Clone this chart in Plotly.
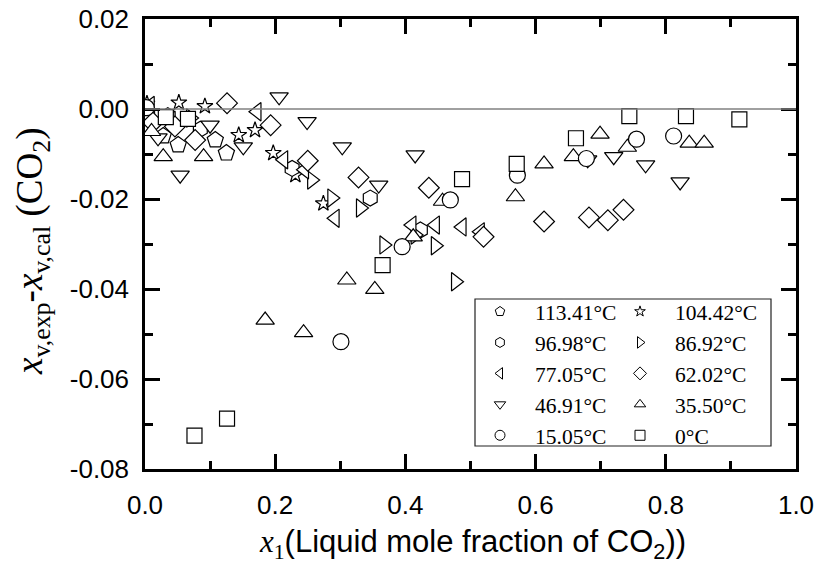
import plotly.graph_objects as go

# ---- data (x1 = liquid mole fraction of CO2, dy = x_v,exp - x_v,cal) ----
labels = ["113.41°C", "104.42°C", "96.98°C", "86.92°C", "77.05°C",
          "62.02°C", "46.91°C", "35.50°C", "15.05°C", "0°C"]

x_113 = [0.004, 0.028, 0.051, 0.108, 0.125]
y_113 = [-0.0035, -0.006, -0.008, -0.0069, -0.0098]

x_104 = [0.003, 0.052, 0.092, 0.144, 0.169, 0.197, 0.231, 0.274]
y_104 = [0.0012, 0.0014, 0.0006, -0.0058, -0.0047, -0.0098, -0.0147, -0.021]

x_97 = [0.004, 0.035, 0.085, 0.226, 0.346, 0.423]
y_97 = [-0.001, -0.0015, -0.0045, -0.0132, -0.0198, -0.0269]

x_87 = [0.012, 0.07, 0.256, 0.287, 0.331, 0.367, 0.415, 0.446, 0.477]
y_87 = [-0.003, -0.002, -0.0158, -0.0198, -0.022, -0.0302, -0.028, -0.0304, -0.0384]

x_77 = [0.008, 0.04, 0.172, 0.213, 0.245, 0.292, 0.41, 0.446, 0.487, 0.515]
y_77 = [0.0008, -0.0025, -0.0006, -0.0113, -0.0135, -0.0243, -0.0258, -0.0258, -0.0262, -0.0273]

x_62 = [0.012, 0.046, 0.077, 0.126, 0.193, 0.25, 0.328, 0.436, 0.52, 0.613, 0.682, 0.711, 0.735]
y_62 = [-0.003, -0.0039, -0.0069, 0.0013, -0.0036, -0.0115, -0.0152, -0.0175, -0.0284, -0.025,
        -0.0241, -0.0247, -0.0224]

x_47 = [0.02, 0.054, 0.1, 0.151, 0.206, 0.249, 0.303, 0.359, 0.415, 0.68, 0.72, 0.769, 0.822]
y_47 = [-0.0064, -0.0147, -0.0036, -0.0084, 0.0027, -0.0028, -0.0084, -0.0169, -0.0102,
        -0.0113, -0.0106, -0.0124, -0.0162]

x_35 = [0.01, 0.028, 0.09, 0.1846, 0.2436, 0.31, 0.353, 0.412, 0.457, 0.569, 0.613, 0.658,
        0.699, 0.741, 0.836, 0.859]
y_35 = [-0.005, -0.0106, -0.0106, -0.0469, -0.0497, -0.038, -0.0401, -0.0284, -0.0205, -0.0195,
        -0.0122, -0.0106, -0.0056, -0.0085, -0.0076, -0.0076]

x_15 = [0.002, 0.301, 0.395, 0.469, 0.572, 0.678, 0.755, 0.812]
y_15 = [0.0003, -0.0517, -0.0306, -0.0202, -0.0147, -0.011, -0.0067, -0.006]

x_0 = [0.032, 0.066, 0.076, 0.126, 0.365, 0.487, 0.571, 0.662, 0.744, 0.831, 0.913]
y_0 = [-0.0018, -0.0022, -0.0726, -0.0688, -0.0347, -0.0156, -0.0122, -0.0065, -0.0016, -0.0016, -0.0023]

x_series = [x_113, x_104, x_97, x_87, x_77, x_62, x_47, x_35, x_15, x_0]
y_series = [y_113, y_104, y_97, y_87, y_77, y_62, y_47, y_35, y_15, y_0]

symbols = ["pentagon", "star", "hexagon", "triangle-right", "triangle-left",
           "diamond", "triangle-down", "triangle-up", "circle", "square"]
sizes = [17, 12, 16, 16, 16, 16, 16, 16, 16, 15]

x_ticks = [0.0, 0.2, 0.4, 0.6, 0.8, 1.0]
x_ticktext = ["0.0", "0.2", "0.4", "0.6", "0.8", "1.0"]
y_ticks = [-0.08, -0.06, -0.04, -0.02, 0.0, 0.02]
y_ticktext = ["-0.08", "-0.06", "-0.04", "-0.02", "0.00", "0.02"]

fig = go.Figure()

for xs, ys, sym, sz in zip(x_series, y_series, symbols, sizes):
    fig.add_trace(go.Scatter(
        x=xs, y=ys, mode="markers", showlegend=False,
        marker=dict(symbol=sym, size=sz, color="white",
                    line=dict(color="black", width=1.2)),
        hoverinfo="x+y"))

# legend entries (two columns)
for i, (lab, sym) in enumerate(zip(labels, symbols)):
    fig.add_trace(go.Scatter(
        x=[None], y=[None], mode="markers", name="\u00a0\u00a0\u2009" + lab,
        legend="legend" if i % 2 == 0 else "legend2",
        marker=dict(symbol=sym, size=10 if sym != "star" else 8, color="white",
                    line=dict(color="black", width=1))))

L, R, T, B = 145, 18, 19, 104
W, H = 814, 573
pw, ph = W - L - R, H - T - B


def px(xp):
    return (xp - L) / pw


def py(yp):
    return 1 - (yp - T) / ph


axis_common = dict(
    showline=True, linecolor="black", linewidth=2.5, mirror="allticks",
    ticks="inside", ticklen=15, tickwidth=2.5, tickcolor="black",
    showgrid=False, zeroline=False, ticklabeloverflow="allow", automargin=False,
    tickfont=dict(family="Liberation Sans, Arial", size=26, color="black"),
)

legend_font = dict(family="Liberation Serif, Times New Roman", size=21.5, color="black")

fig.update_layout(
    width=W, height=H, margin=dict(l=L, r=R, t=T, b=B, autoexpand=False),
    paper_bgcolor="white", plot_bgcolor="white",
    xaxis=dict(range=[0, 1], tickvals=x_ticks, ticktext=x_ticktext,
               minor=dict(dtick=0.1, tick0=0, ticks="inside", ticklen=8, tickwidth=2.5,
                          tickcolor="black"),
               ticklabelstandoff=11, **axis_common),
    yaxis=dict(range=[-0.08, 0.02], tickvals=y_ticks, ticktext=y_ticktext,
               minor=dict(dtick=0.01, tick0=0, ticks="inside", ticklen=8, tickwidth=2.5,
                          tickcolor="black"),
               ticklabelstandoff=8, **axis_common),
    legend=dict(x=px(480), y=py(291), xanchor="left", yanchor="top",
                bgcolor="rgba(0,0,0,0)", borderwidth=0, font=legend_font),
    legend2=dict(x=px(620), y=py(291), xanchor="left", yanchor="top",
                 bgcolor="rgba(0,0,0,0)", borderwidth=0, font=legend_font),
    shapes=[
        dict(type="line", xref="x domain", yref="y", x0=0, x1=1, y0=0, y1=0,
             line=dict(color="#808080", width=1.3), layer="above"),
        dict(type="rect", xref="paper", yref="paper", x0=px(475), x1=px(771),
             y0=py(446), y1=py(299), line=dict(color="#222", width=1.2), layer="above"),
    ],
    annotations=[
        dict(text="<i>x</i><sub>v,exp</sub>-<i>x</i><sub>v,cal</sub> (CO<sub>2</sub>)",
             xref="paper", yref="paper", x=px(32), y=py(251), textangle=-90,
             showarrow=False, xanchor="center", yanchor="middle",
             font=dict(family="Liberation Serif, Times New Roman", size=37, color="black")),
        dict(text="<i style='font-family:Liberation Serif'>x</i><sub style='font-family:Liberation Serif'>1</sub>(Liquid mole fraction of CO<sub>2</sub>))",
             xref="paper", yref="paper", x=px(472), y=py(544), showarrow=False,
             xanchor="center", yanchor="middle",
             font=dict(family="Liberation Sans, Arial", size=31, color="black")),
    ],
)

fig.write_html("out.html", config={"displayModeBar": False},
               post_script="document.body.style.margin='0';document.body.style.padding='0';")
